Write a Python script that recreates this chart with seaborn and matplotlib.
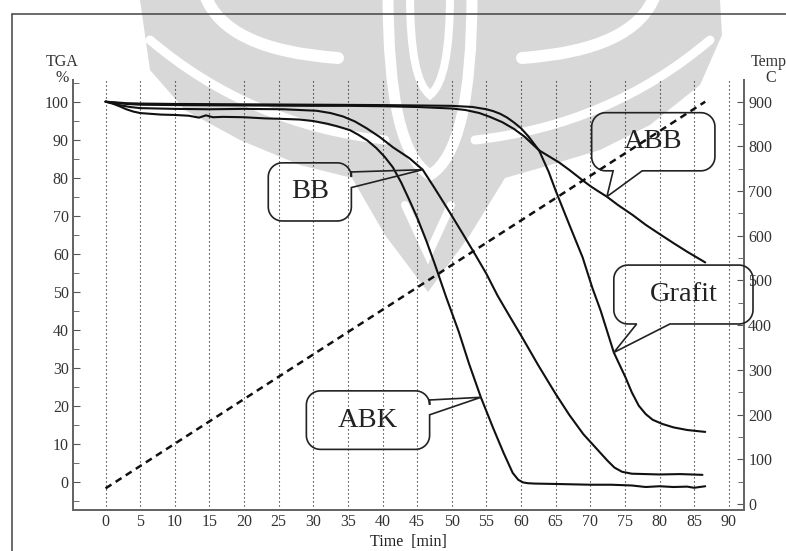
import numpy as np
import pandas as pd
import matplotlib
matplotlib.use("Agg")
import matplotlib.pyplot as plt
import seaborn as sns
from matplotlib.path import Path
from matplotlib.patches import PathPatch
from matplotlib.lines import Line2D
from matplotlib.transforms import IdentityTransform, Affine2D

# ---- TGA mass-loss curves (time in min, mass in %) ----
abk_time = [0, 1, 2, 3, 4, 5, 6.5, 8, 10, 12, 13.5, 14.5, 15.5, 17, 20, 23, 25, 28, 30, 32,
            33.5, 35.3, 36.5, 37.8, 39.1, 40.3, 41.5, 42.7, 43.9, 45, 46.3, 47.5, 49.2, 51,
            52.5, 54.2, 56, 57.5, 58.8, 59.6, 60.3, 61, 62, 65, 70, 73, 76, 78, 80, 82, 84,
            85, 86.6]
abk_mass = [100, 99.5, 98.8, 98.0, 97.4, 97.0, 96.8, 96.6, 96.5, 96.3, 95.8, 96.4, 95.9, 96.0,
            95.9, 95.6, 95.5, 95.3, 94.9, 94.2, 93.5, 92.5, 91.3, 89.8, 87.8, 85.5, 82.7, 78.7,
            74.0, 69.5, 63.5, 57.5, 48.5, 39.5, 31.0, 22.2, 14.0, 7.5, 2.3, 0.5, -0.2, -0.4,
            -0.5, -0.6, -0.8, -0.8, -1.0, -1.4, -1.2, -1.4, -1.3, -1.6, -1.2]

bb_time = [0, 1, 2, 3.5, 5, 10, 15, 20, 25.7, 30.5, 32.5, 34.3, 36, 37.7, 39.6, 41.5, 43.9,
           45.8, 47.5, 49.7, 51.6, 53.5, 55, 56.6, 58.3, 60, 62.5, 65, 67, 69, 71, 72.5, 73.5,
           74.6, 76, 78, 80, 83, 86.2]
bb_mass = [100, 99.6, 99.1, 98.6, 98.3, 98.1, 98.0, 98.1, 98.0, 97.6, 97.0, 96.1, 94.8, 93.0,
           90.7, 88.0, 85.1, 82.1, 77.3, 70.9, 65.2, 59.4, 54.7, 49.0, 43.7, 38.5, 30.6, 23.1,
           17.5, 12.5, 8.5, 5.5, 3.7, 2.6, 2.1, 2.0, 1.9, 2.0, 1.8]

abb_time = [0, 3, 5, 10, 20, 30, 35, 40, 45, 50, 52, 54, 55.5, 57.3, 59, 60.5, 62.6, 65.5,
            67, 68.9, 70, 71, 72.4, 74, 76.1, 78, 79.9, 82, 84, 86.6]
abb_mass = [100, 99.4, 99.2, 99.1, 99.0, 98.9, 98.9, 98.8, 98.6, 98.2, 97.8, 97.0, 96.0, 94.6,
            92.8, 90.8, 87.2, 84.0, 82.0, 79.3, 77.8, 76.6, 75.0, 72.8, 70.2, 67.6, 65.3, 62.8,
            60.5, 57.7]

grafit_time = [0, 3, 5, 10, 20, 30, 40, 45, 50, 53, 55, 56, 57, 58, 59, 60, 61, 62.6, 64, 65,
               67, 68.9, 70.3, 71.5, 73.4, 75.1, 76, 77, 78, 79, 80.4, 82, 84, 86.6]
grafit_mass = [100, 99.6, 99.5, 99.4, 99.3, 99.2, 99.1, 99.0, 98.9, 98.6, 98.0, 97.5, 96.8,
               95.8, 94.5, 93.0, 91.0, 87.2, 81.5, 76.6, 67.5, 59.0, 51.0, 45.0, 34.0, 27.4,
               23.5, 20.0, 17.8, 16.3, 15.2, 14.3, 13.6, 13.1]

# ---- furnace temperature programme ----
temp_time = [0, 86.6]
temp_c = [35, 900]

x_ticks = list(range(0, 95, 5))
tga_ticks = list(range(0, 101, 10))
temp_ticks = list(range(0, 901, 100))

samples = ["ABK", "BB", "ABB", "Grafit"]

df = pd.concat([
    pd.DataFrame({"time": abk_time, "mass": abk_mass, "sample": "ABK"}),
    pd.DataFrame({"time": bb_time, "mass": bb_mass, "sample": "BB"}),
    pd.DataFrame({"time": abb_time, "mass": abb_mass, "sample": "ABB"}),
    pd.DataFrame({"time": grafit_time, "mass": grafit_mass, "sample": "Grafit"}),
], ignore_index=True)

sns.set_style("white")
plt.rcParams["font.family"] = ["Liberation Serif", "DejaVu Serif"]

W, H = 786, 551
fig = plt.figure(figsize=(W / 100, H / 100), dpi=100)

# faint emblem in the page background (pixel coordinates, y downwards)
px = Affine2D().scale(1 / W, -1 / H).translate(0, 1) + fig.transFigure
emblem_grey = "#d8d8d8"
C3 = Path.CURVE3

body_v = [(140, 0), (720, 0), (722, 35), (700, 85), (650, 125), (600, 150),
          (540, 168), (505, 178), (470, 235), (428, 292), (385, 235), (352, 178),
          (300, 165), (240, 140), (185, 110), (150, 70), (140, 0)]
fig.add_artist(PathPatch(Path(body_v), facecolor=emblem_grey, edgecolor="none",
                         transform=px, zorder=-6))


def stroke(verts, codes, lw):
    fig.add_artist(PathPatch(Path(verts, codes), fill=False, edgecolor="white",
                             linewidth=lw * 0.72, capstyle="round", transform=px,
                             zorder=-5))


M, L = Path.MOVETO, Path.LINETO
# white swirls cut into the emblem
stroke([(205, -5), (225, 50), (338, 58)], [M, C3, C3], 12)
stroke([(655, -5), (635, 50), (522, 58)], [M, C3, C3], 12)
stroke([(150, 40), (250, 125), (385, 140)], [M, C3, C3], 9)
stroke([(710, 40), (610, 125), (475, 140)], [M, C3, C3], 9)
stroke([(388, -5), (388, 150), (430, 175), (472, 150), (472, -5)],
       [M, C3, C3, C3, C3], 11)
stroke([(410, -5), (410, 80), (430, 95), (450, 80), (450, -5)],
       [M, C3, C3, C3, C3], 8)
stroke([(405, 205), (428, 255), (451, 205)], [M, L, L], 8)

ax = fig.add_axes([73 / W, 1 - 510 / H, (744 - 73) / W, (510 - 80) / H])
ax.set_facecolor("none")

sns.lineplot(data=df, x="time", y="mass", hue="sample", units="sample", estimator=None,
             sort=False, palette={s: "#111111" for s in samples}, linewidth=1.5,
             legend=False, ax=ax)
for ln in ax.get_lines():
    ln.set_solid_joinstyle("round")

ax.set_xlim(-4.7, 92.2)
ax.set_ylim(-7.45, 105.7)
ax.set_xticks(x_ticks)
ax.set_yticks(tga_ticks)
ax.set_yticks(list(range(-5, 106, 10)), minor=True)
ax.set_xlabel("Time  [min]", fontsize=11.5, color="#222", labelpad=3)
ax.set_ylabel("")
ax.grid(axis="x", color="#111", linestyle=(0, (1, 2.6)), linewidth=0.8)
ax.tick_params(axis="x", direction="in", length=4, color="#555", labelsize=11.5,
               labelcolor="#333", pad=3)
ax.tick_params(axis="y", which="major", direction="in", length=5, color="#555",
               labelsize=11.5, labelcolor="#333", pad=3)
ax.tick_params(axis="y", which="minor", direction="in", length=4, color="#555")

ax2 = ax.twinx()
ax2.set_facecolor("none")
sns.lineplot(x=temp_time, y=temp_c, ax=ax2, color="#111", linewidth=1.8,
             linestyle=(0, (2.8, 2.0)))
ax2.set_ylim(-13.4, 948.5)
ax2.set_yticks(temp_ticks)
ax2.set_yticks(list(range(50, 901, 100)), minor=True)
ax2.set_ylabel("")
ax2.tick_params(axis="y", which="major", direction="in", length=5, color="#555",
                labelsize=11.5, labelcolor="#333", pad=3)
ax2.tick_params(axis="y", which="minor", direction="in", length=4, color="#555")

for a in (ax, ax2):
    a.spines["top"].set_visible(False)
    for s in ("left", "right", "bottom"):
        a.spines[s].set_color("#666")
        a.spines[s].set_linewidth(1.4)

# axis captions above the two value scales
fig.text(62 / W, 1 - 62 / H, "TGA", ha="center", va="center", fontsize=11.5, color="#333")
fig.text(62 / W, 1 - 78 / H, "%", ha="center", va="center", fontsize=11.5, color="#333")
fig.text(769 / W, 1 - 62 / H, "Temp", ha="center", va="center", fontsize=11.5, color="#333")
fig.text(771 / W, 1 - 78 / H, "C", ha="center", va="center", fontsize=11.5, color="#333")

# outer frame (left and top)
fig.add_artist(Line2D([12 / W, 12 / W], [0, 1 - 14 / H], transform=fig.transFigure,
                      color="#444", linewidth=1.1))
fig.add_artist(Line2D([12 / W, 1], [1 - 14 / H, 1 - 14 / H], transform=fig.transFigure,
                      color="#444", linewidth=1.1))


def bubble(box, side, base, tip, label, r=14):
    """Rounded speech bubble with a pointed tail, built in display pixels."""
    tr = ax.transData
    X0, Y0 = tr.transform((box[0], box[1]))
    X1, Y1 = tr.transform((box[2], box[3]))
    TX, TY = tr.transform(tip)

    def arc(cx, cy, a0, a1):
        ang = np.radians(np.linspace(a0, a1, 12))
        return list(zip(cx + r * np.cos(ang), cy + r * np.sin(ang)))

    pts = [(X0 + r, Y1), (X1 - r, Y1)]
    pts += arc(X1 - r, Y1 - r, 90, 0)
    if side == "right":
        b_hi = tr.transform((box[2], base[0]))[1]
        b_lo = tr.transform((box[2], base[1]))[1]
        pts += [(X1, b_hi), (TX, TY), (X1, b_lo)]
    pts += arc(X1 - r, Y0 + r, 0, -90)
    if side == "bottom":
        b_r = tr.transform((base[0], box[1]))[0]
        b_l = tr.transform((base[1], box[1]))[0]
        pts += [(b_r, Y0), (TX, TY), (b_l, Y0)]
    pts += arc(X0 + r, Y0 + r, -90, -180)
    pts += arc(X0 + r, Y1 - r, 180, 90)
    pts.append(pts[0])
    patch = PathPatch(Path(pts), fill=False, edgecolor="#222", linewidth=1.2,
                      transform=IdentityTransform(), clip_on=False, zorder=5)
    fig.add_artist(patch)
    ax.text((box[0] + box[2]) / 2, (box[1] + box[3]) / 2, label, ha="center",
            va="center", fontsize=20.5, color="#222", clip_on=False, zorder=6)


bubble((23.5, 68.6, 35.5, 83.9), "right", (81.5, 77.4),
       (45.8, np.interp(45.8, bb_time, bb_mass)), "BB")
bubble((70.2, 81.8, 88.0, 97.1), "bottom", (77.5, 73.3),
       (72.4, np.interp(72.4, abb_time, abb_mass)), "ABB")
bubble((73.4, 41.5, 93.5, 57.0), "bottom", (81.5, 76.7),
       (73.4, np.interp(73.4, grafit_time, grafit_mass)), "Grafit")
bubble((29.0, 8.5, 46.8, 23.9), "right", (21.5, 17.6),
       (54.2, np.interp(54.2, abk_time, abk_mass)), "ABK")

fig.savefig("out.png", dpi=100)
